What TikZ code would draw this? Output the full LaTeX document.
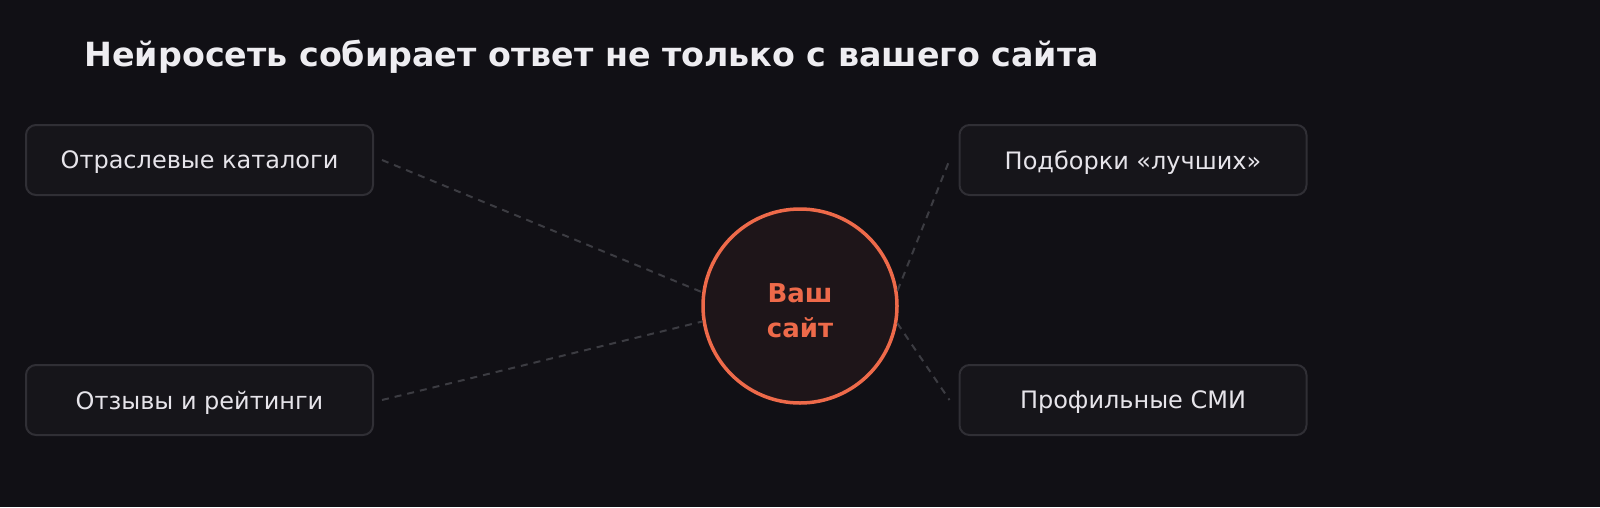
\documentclass[tikz,border=0pt]{standalone}
\usepackage{fontspec}
\setmainfont{DejaVu Sans}
\usetikzlibrary{positioning}
\definecolor{bgc}{HTML}{111015}
\definecolor{cardfill}{HTML}{16151A}
\definecolor{cardline}{HTML}{302F35}
\definecolor{txt}{HTML}{E6E4EA}
\definecolor{head}{HTML}{EEEDF1}
\definecolor{accent}{HTML}{EE6A4A}
\definecolor{sitefill}{HTML}{1E1519}
\definecolor{link}{HTML}{3C3C42}
\tikzset{
	card/.style={draw=cardline, line width=2pt, fill=cardfill, rounded corners=10pt, minimum width=347pt, minimum height=70pt, text depth=0pt, text=txt, font=\fontsize{24}{28}\selectfont},
	site/.style={circle, draw=accent, line width=3.5pt, fill=sitefill, minimum size=194pt},
	sitetext/.style={text=accent, align=center, font=\bfseries\fontsize{26}{35}\selectfont},
	link/.style={draw=link, line width=2pt, dash pattern=on 7pt off 6pt}
}
\begin{document}
\begin{tikzpicture}[x=1pt, y=-1pt, line join=round]
					\fill[bgc] (0,0) rectangle (1600,507);
					\useasboundingbox (0,0) rectangle (1600,507);
					\node[anchor=base west, text=head, font=\bfseries\fontsize{33.3}{38}\selectfont] (title) at (81,66) {Нейросеть собирает ответ не только с вашего сайта};
					\node[site] (s) at (800,306) {};
					\node[sitetext] (stxt) at ([yshift=-5pt]s.center) {Ваш\\сайт};
					\foreach \n/\p/\t in {cat/{199.5,160}/Отраслевые каталоги, rev/{199.5,400}/Отзывы и рейтинги, top/{1133,160}/Подборки «лучших», smi/{1133,400}/Профильные СМИ}
					\node[card] (\n) at (\p) {\t};
					\draw[link] ([xshift=8pt]cat.east) -- (s.172);
					\draw[link] ([xshift=8pt]rev.east) -- (s.189);
					\draw[link] (s.9) -- ([xshift=-9pt]top.west);
					\draw[link] (s.350) -- ([xshift=-9pt]smi.west);
				\end{tikzpicture}
\end{document}
